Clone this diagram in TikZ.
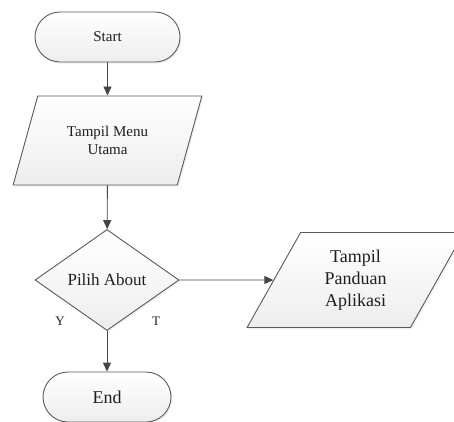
\documentclass[tikz,border=0pt]{standalone}
\usepackage{fontspec}
\setmainfont{Liberation Serif}
\usetikzlibrary{shapes.geometric,shapes.misc,arrows.meta,shadows}
\definecolor{edge}{HTML}{5A5A5A}
\definecolor{wire}{HTML}{454545}
\definecolor{ink}{HTML}{1E1E1E}
\begin{document}
\begin{tikzpicture}[x=1pt,y=1pt,
  box/.style={draw=edge, line width=0.9pt, top color=white, bottom color=gray!14,
    text=ink, align=center, inner sep=0pt,
    drop shadow={opacity=0.12, shadow xshift=1.5pt, shadow yshift=-1.5pt}},
  term/.style={box, rounded rectangle},
  io/.style={box, trapezium, trapezium left angle=63.4, trapezium right angle=116.6,
    trapezium stretches=true},
  decide/.style={box, diamond},
  flow/.style={draw=wire, line width=0.9pt, -{Triangle[length=9pt,width=8pt]}},
  tag/.style={font=\fontsize{13}{15}\selectfont, text=ink}
]
\useasboundingbox (0,0) rectangle (454,-421);

% main column
\node[term, minimum width=145pt, minimum height=50pt,
  font=\fontsize{15}{18}\selectfont] (start) at (107.5,-37) {Start};
\node[io, minimum width=189pt, minimum height=89pt,
  font=\fontsize{15}{18}\selectfont] (menu) at (107.5,-140.5) {Tampil Menu\\Utama};
\node[decide, minimum width=144pt, minimum height=101pt,
  font=\fontsize{17}{20}\selectfont] (about) at (107,-280) {Pilih About};
\node[term, minimum width=128pt, minimum height=50pt,
  font=\fontsize{18}{21}\selectfont] (end) at (107,-397) {End};

% side branch
\node[io, minimum width=217pt, minimum height=95pt,
  font=\fontsize{18}{22}\selectfont] (guide) at (355.5,-280) {Tampil\\Panduan\\Aplikasi};

% connectors
\draw[flow] (start) -- (menu);
\draw[flow] (menu) -- (about);
\draw[flow] (about) -- (end);
\draw[flow] (about) -- (guide);

% branch labels
\node[tag] (yes) at (60,-321) {Y};
\node[tag] (no) at (156,-321) {T};
\end{tikzpicture}
\end{document}
